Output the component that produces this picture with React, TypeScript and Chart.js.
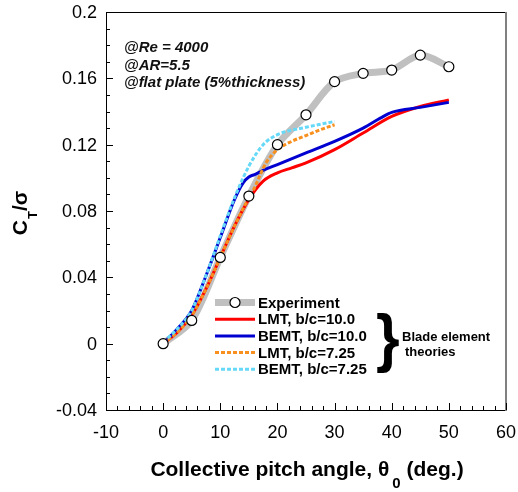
import React, { useEffect, useRef } from "react";
import { Chart, registerables } from "chart.js";

Chart.register(...registerables);

// ---------- data ----------
const expX = [0, 5, 10, 15, 20, 25, 30, 35, 40, 45, 50];
const expY = [0, 0.014, 0.052, 0.089, 0.12, 0.138, 0.158, 0.163, 0.165, 0.174, 0.167];

const lmt10X = [0, 2.5, 5, 7.5, 10, 12.5, 15, 17.5, 20, 22.5, 25, 30, 35, 40, 45, 50];
const lmt10Y = [0, 0.007, 0.017, 0.033, 0.052, 0.071, 0.087, 0.098, 0.103, 0.106, 0.109, 0.117, 0.127, 0.137, 0.143, 0.147];

const bemt10X = [0, 2.5, 5, 7.5, 10, 12.5, 14, 15, 16, 17.5, 20, 25, 30, 35, 38, 40, 45, 50];
const bemt10Y = [0, 0.009, 0.02, 0.041, 0.064, 0.087, 0.097, 0.1005, 0.102, 0.1045, 0.108, 0.115, 0.122, 0.13, 0.136, 0.1395, 0.1425, 0.1455];

const lmt725X = [0, 2.5, 5, 7.5, 10, 12.5, 15, 16, 17, 18, 20, 22.5, 25, 27.5, 30];
const lmt725Y = [0, 0.007, 0.017, 0.033, 0.052, 0.071, 0.088, 0.094, 0.102, 0.109, 0.117, 0.122, 0.1255, 0.129, 0.132];

const bemt725X = [0, 2.5, 5, 7.5, 10, 12.5, 15, 17.5, 20, 25, 30];
const bemt725Y = [0.001, 0.009, 0.02, 0.041, 0.065, 0.088, 0.107, 0.12, 0.126, 0.1305, 0.134];

const xTicks = [-10, 0, 10, 20, 30, 40, 50, 60];
const xTickLabels = ["-10", "0", "10", "20", "30", "40", "50", "60"];
const yTicks = [-0.04, 0, 0.04, 0.08, 0.12, 0.16, 0.2];
const yTickLabels = ["-0.04", "0", "0.04", "0.08", "0.12", "0.16", "0.2"];

const legendLabels = ["Experiment", "LMT, b/c=10.0", "BEMT, b/c=10.0", "LMT, b/c=7.25", "BEMT, b/c=7.25"];
const notes = ["@Re = 4000", "@AR=5.5", "@flat plate (5%thickness)"];
const braceLabels = ["Blade element", "theories"];

const FONT = '"Liberation Sans", Arial, Helvetica, sans-serif';
const C_EXP = "#c0c0c0";
const C_RED = "#ff0000";
const C_BLUE = "#0000d0";
const C_ORANGE = "#f7901e";
const C_CYAN = "#66d9f8";

const pts = (xs: number[], ys: number[]) => xs.map((x, i) => ({ x, y: ys[i] }));

const decorPlugin = {
  id: "decor",
  afterDraw(chart: any) {
    const ctx: CanvasRenderingContext2D = chart.ctx;
    const xs = chart.scales.x;
    const ys = chart.scales.y;
    const { left, right, top, bottom } = chart.chartArea;
    ctx.save();

    // frame
    ctx.lineWidth = 1;
    ctx.strokeStyle = "#000";
    ctx.beginPath();
    ctx.moveTo(left + 0.5, top + 0.5);
    ctx.lineTo(right, top + 0.5);
    ctx.moveTo(left + 0.5, top);
    ctx.lineTo(left + 0.5, bottom + 0.5);
    ctx.lineTo(right, bottom + 0.5);
    ctx.stroke();
    ctx.strokeStyle = "#808080";
    ctx.lineWidth = 2;
    ctx.beginPath();
    ctx.moveTo(right, top);
    ctx.lineTo(right, bottom + 1);
    ctx.stroke();

    // ticks (inward)
    ctx.strokeStyle = "#000";
    ctx.lineWidth = 1;
    ctx.beginPath();
    for (let v = -10; v <= 60; v += 2) {
      const px = Math.round(xs.getPixelForValue(v)) + 0.5;
      const len = v % 10 === 0 ? 7 : 4;
      ctx.moveTo(px, bottom);
      ctx.lineTo(px, bottom - len);
    }
    for (let i = -4; i <= 20; i++) {
      const v = i / 100;
      const py = Math.round(ys.getPixelForValue(v)) + 0.5;
      const len = i % 4 === 0 ? 7 : 4;
      ctx.moveTo(left, py);
      ctx.lineTo(left + len, py);
    }
    ctx.stroke();

    // tick labels
    ctx.fillStyle = "#000";
    ctx.font = `18px ${FONT}`;
    ctx.textAlign = "center";
    ctx.textBaseline = "middle";
    xTicks.forEach((v, i) => {
      ctx.fillText(xTickLabels[i], xs.getPixelForValue(v), bottom + 23);
    });
    ctx.textAlign = "right";
    yTicks.forEach((v, i) => {
      ctx.fillText(yTickLabels[i], left - 9, ys.getPixelForValue(v) + 1);
    });

    // x title
    const f1 = `bold 21px ${FONT}`;
    const f2 = `bold 15px ${FONT}`;
    const s1 = "Collective pitch angle, \u03b8";
    const s2 = "0";
    const s3 = " (deg.)";
    ctx.font = f1;
    const w1 = ctx.measureText(s1).width;
    const w3 = ctx.measureText(s3).width;
    ctx.font = f2;
    const w2 = ctx.measureText(s2).width;
    const gap = 3;
    const total = w1 + gap + w2 + w3;
    let x0 = 307 - total / 2;
    ctx.textAlign = "left";
    ctx.textBaseline = "alphabetic";
    ctx.font = f1;
    ctx.fillText(s1, x0, 476);
    ctx.font = f2;
    ctx.fillText(s2, x0 + w1 + gap, 488);
    ctx.font = f1;
    ctx.fillText(s3, x0 + w1 + gap + w2, 476);

    // y title (rotated)
    ctx.save();
    ctx.translate(27, 213);
    ctx.rotate(-Math.PI / 2);
    ctx.font = f1;
    const cW = ctx.measureText("C").width;
    const sW = ctx.measureText("/\u03c3").width;
    ctx.font = `bold 13px ${FONT}`;
    const tW = ctx.measureText("T").width;
    const tot = cW + tW + sW + 1;
    let yx = -tot / 2;
    ctx.font = f1;
    ctx.fillText("C", yx, 0);
    ctx.font = `bold 13px ${FONT}`;
    ctx.fillText("T", yx + cW + 1, 10);
    ctx.font = f1;
    ctx.fillText("/\u03c3", yx + cW + tW + 1, 0);
    ctx.restore();

    // notes
    ctx.fillStyle = "#111";
    ctx.font = `italic bold 15px ${FONT}`;
    ctx.textAlign = "left";
    ctx.textBaseline = "middle";
    notes.forEach((t, i) => ctx.fillText(t, 124, 48 + i * 17.5));

    // legend
    const lx0 = 215;
    const lx1 = 255;
    const rowY = (i: number) => 302.5 + i * 16.7;
    const styles = [
      { c: C_EXP, w: 7, d: [] as number[] },
      { c: C_RED, w: 3, d: [] as number[] },
      { c: C_BLUE, w: 3, d: [] as number[] },
      { c: C_ORANGE, w: 3, d: [4, 2] },
      { c: C_CYAN, w: 3, d: [4, 2] },
    ];
    styles.forEach((s, i) => {
      ctx.strokeStyle = s.c;
      ctx.lineWidth = s.w;
      ctx.setLineDash(s.d);
      ctx.beginPath();
      ctx.moveTo(lx0, rowY(i));
      ctx.lineTo(lx1, rowY(i));
      ctx.stroke();
    });
    ctx.setLineDash([]);
    ctx.fillStyle = "#fff";
    ctx.strokeStyle = "#000";
    ctx.lineWidth = 1.2;
    ctx.beginPath();
    ctx.arc(235, rowY(0), 5, 0, Math.PI * 2);
    ctx.fill();
    ctx.stroke();
    ctx.fillStyle = "#000";
    ctx.font = `bold 15px ${FONT}`;
    legendLabels.forEach((t, i) => ctx.fillText(t, 258, rowY(i) + 1));

    // brace
    ctx.save();
    ctx.font = `bold 64px ${FONT}`;
    ctx.textBaseline = "alphabetic";
    ctx.translate(376, 360);
    ctx.scale(0.95, 1);
    ctx.fillText("}", 0, 0);
    ctx.restore();
    ctx.font = `bold 13px ${FONT}`;
    ctx.textBaseline = "middle";
    ctx.fillText(braceLabels[0], 402, 337);
    ctx.fillText(braceLabels[1], 405, 352);

    ctx.restore();
  },
};

export default function App() {
  const ref = useRef<HTMLCanvasElement | null>(null);
  useEffect(() => {
    if (!ref.current) return;
    const chart = new Chart(ref.current, {
      type: "line",
      data: {
        datasets: [
          {
            label: "Experiment points",
            data: pts(expX, expY),
            showLine: false,
            pointRadius: 5,
            pointBackgroundColor: "#fff",
            pointBorderColor: "#000",
            pointBorderWidth: 1.2,
            order: 0,
          },
          {
            label: legendLabels[4],
            data: pts(bemt725X, bemt725Y),
            borderColor: C_CYAN,
            borderWidth: 3,
            borderDash: [4, 2],
            pointRadius: 0,
            cubicInterpolationMode: "monotone",
            order: 1,
          },
          {
            label: legendLabels[3],
            data: pts(lmt725X, lmt725Y),
            borderColor: C_ORANGE,
            borderWidth: 3,
            borderDash: [4, 2],
            pointRadius: 0,
            cubicInterpolationMode: "monotone",
            order: 2,
          },
          {
            label: legendLabels[2],
            data: pts(bemt10X, bemt10Y),
            borderColor: C_BLUE,
            borderWidth: 3,
            pointRadius: 0,
            cubicInterpolationMode: "monotone",
            order: 3,
          },
          {
            label: legendLabels[1],
            data: pts(lmt10X, lmt10Y),
            borderColor: C_RED,
            borderWidth: 3,
            pointRadius: 0,
            cubicInterpolationMode: "monotone",
            order: 4,
          },
          {
            label: legendLabels[0],
            data: pts(expX, expY),
            borderColor: C_EXP,
            borderWidth: 7,
            pointRadius: 0,
            tension: 0.3,
            borderCapStyle: "round",
            borderJoinStyle: "round",
            order: 5,
          },
        ],
      } as any,
      options: {
        responsive: false,
        maintainAspectRatio: false,
        animation: false,
        layout: { padding: { left: 106, right: 12, top: 12, bottom: 82 } },
        plugins: { legend: { display: false }, tooltip: { enabled: false } },
        scales: {
          x: { type: "linear", min: -10, max: 60, display: false },
          y: { type: "linear", min: -0.04, max: 0.2, display: false },
        },
      } as any,
      plugins: [decorPlugin],
    });
    return () => chart.destroy();
  }, []);
  return (
    <div style={{ position: "fixed", left: 0, top: 0, width: 518, height: 492, background: "#fff" }}>
      <canvas ref={ref} width={518} height={492} style={{ display: "block" }} />
    </div>
  );
}
